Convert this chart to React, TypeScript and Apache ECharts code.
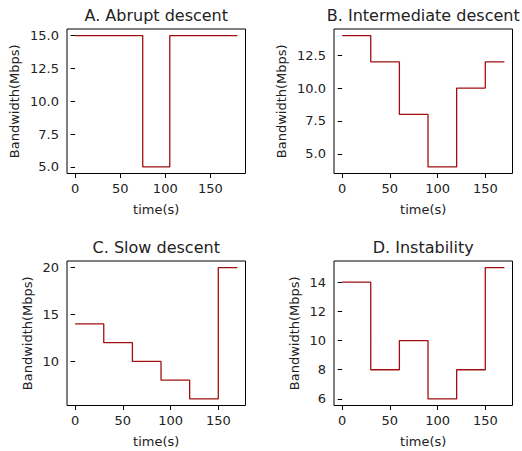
import React, { useEffect, useRef } from "react";
import * as echarts from "echarts";

const titles = ["A. Abrupt descent", "B. Intermediate descent", "C. Slow descent", "D. Instability"];
const timesA = [0, 75, 105, 180];
const valuesA = [15, 5, 15, 15];
const timesBCD = [0, 30, 60, 90, 120, 150, 170];
const valuesB = [14, 12, 8, 4, 10, 12, 12];
const valuesC = [14, 12, 10, 8, 6, 20, 20];
const valuesD = [14, 8, 10, 6, 8, 15, 15];
const xTicks = [0, 50, 100, 150];
const yTicksA = [5, 7.5, 10, 12.5, 15];
const yTicksB = [5, 7.5, 10, 12.5];
const yTicksC = [10, 15, 20];
const yTicksD = [6, 8, 10, 12, 14];

const FONT = "DejaVu Sans";
const TXT = "#222";
const LINE = "#a01010";

export default function App() {
  const ref = useRef<HTMLDivElement>(null);
  useEffect(() => {
    if (!ref.current) return;
    const chart = echarts.init(ref.current, null, { renderer: "svg" });
    const panels = [
      { t: timesA, v: valuesA, yt: yTicksA, dec: 1, left: 67, top: 29, yGap: 46 },
      { t: timesBCD, v: valuesB, yt: yTicksB, dec: 1, left: 334, top: 29, yGap: 46 },
      { t: timesBCD, v: valuesC, yt: yTicksC, dec: 0, left: 67, top: 261, yGap: 33 },
      { t: timesBCD, v: valuesD, yt: yTicksD, dec: 0, left: 334, top: 261, yGap: 33 },
    ];
    const W = 178.5;
    const H = 144.5;
    const grid: any[] = [];
    const xAxis: any[] = [];
    const yAxis: any[] = [];
    const series: any[] = [];
    const graphic: any[] = [];
    panels.forEach((p, i) => {
      const xmin = Math.min(...p.t), xmax = Math.max(...p.t);
      const ymin = Math.min(...p.v), ymax = Math.max(...p.v);
      const xm = (xmax - xmin) * 0.05, ym = (ymax - ymin) * 0.05;
      grid.push({
        left: p.left, top: p.top, width: W, height: H,
        show: true, borderColor: "#000", borderWidth: 1, backgroundColor: "transparent",
        containLabel: false,
      });
      xAxis.push({
        type: "value", gridIndex: i, min: xmin - xm, max: xmax + xm,
        splitLine: { show: false },
        axisLine: { show: false },
        axisTick: { show: true, inside: false, length: 4.5, lineStyle: { color: "#000" }, customValues: xTicks },
        axisLabel: { show: true, margin: 8, fontSize: 13, color: TXT, fontFamily: FONT, customValues: xTicks, showMinLabel: true, showMaxLabel: true },
        name: "time(s)", nameLocation: "middle", nameGap: 29,
        nameTextStyle: { fontSize: 13, color: TXT, fontFamily: FONT },
      });
      yAxis.push({
        type: "value", gridIndex: i, min: ymin - ym, max: ymax + ym,
        splitLine: { show: false },
        axisLine: { show: false },
        axisTick: { show: true, inside: false, length: 4.5, lineStyle: { color: "#000" }, customValues: p.yt },
        axisLabel: {
          show: true, margin: 8, fontSize: 13, color: TXT, fontFamily: FONT, customValues: p.yt,
          formatter: (val: number) => val.toFixed(p.dec),
        },
        name: "Bandwidth(Mbps)", nameLocation: "middle", nameGap: p.yGap,
        nameTextStyle: { fontSize: 13, color: TXT, fontFamily: FONT },
      });
      series.push({
        type: "line", xAxisIndex: i, yAxisIndex: i, step: "end", symbol: "none",
        data: p.t.map((x, k) => [x, p.v[k]]),
        lineStyle: { color: LINE, width: 1.3 },
        silent: true,
      });
      graphic.push({
        type: "text", x: p.left + W / 2, y: p.top - 14,
        style: { text: titles[i], fontSize: 16, fill: TXT, fontFamily: FONT, align: "center", verticalAlign: "middle" },
      });
    });
    chart.setOption({ animation: false, backgroundColor: "#fff", grid, xAxis, yAxis, series, graphic });
    return () => chart.dispose();
  }, []);
  return <div ref={ref} style={{ position: "fixed", left: 0, top: 0, width: 522, height: 451 }} />;
}
